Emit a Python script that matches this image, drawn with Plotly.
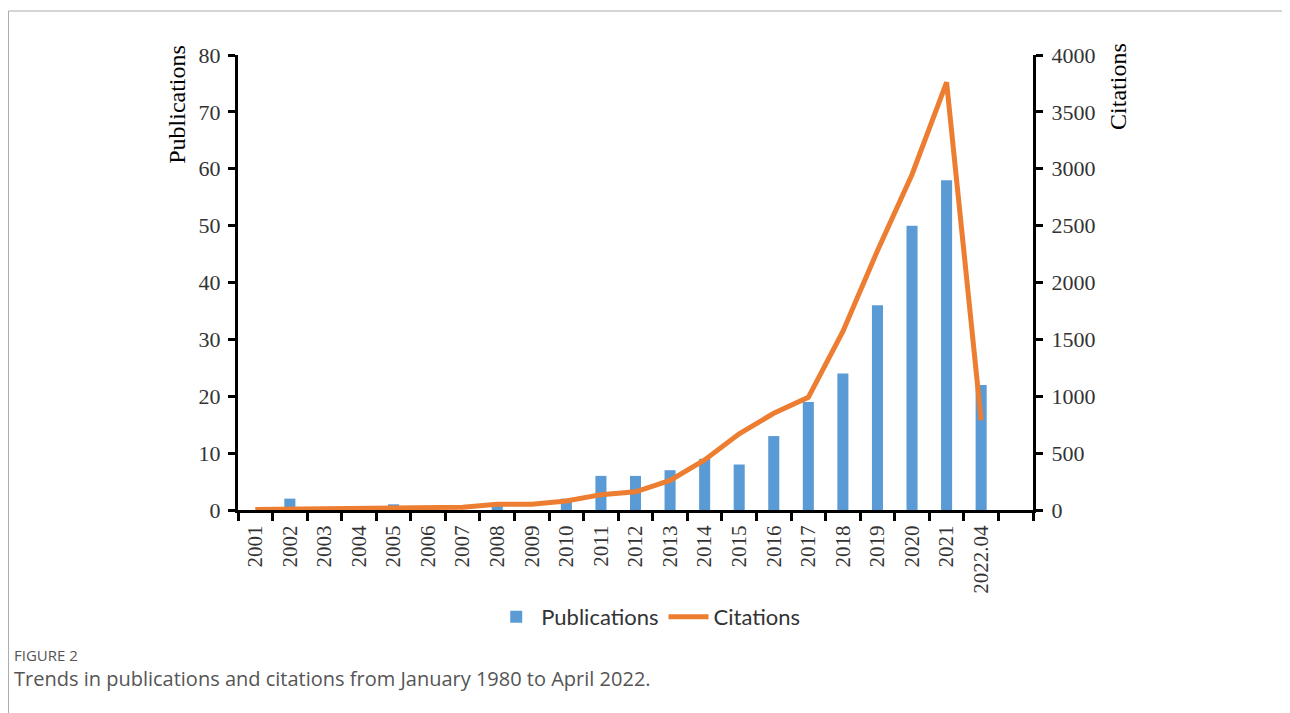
import plotly.graph_objects as go

years = ['2001', '2002', '2003', '2004', '2005', '2006', '2007', '2008', '2009', '2010', '2011',
         '2012', '2013', '2014', '2015', '2016', '2017', '2018', '2019', '2020', '2021', '2022.04']
publications = [0, 2, 0, 0, 1, 0, 0, 1, 0, 2, 6, 6, 7, 9, 8, 13, 19, 24, 36, 50, 58, 22]
citations = [5, 10, 15, 20, 25, 25, 25, 50, 50, 80, 135, 160, 260, 440, 670, 850, 990,
             1570, 2280, 2950, 3760, 790]
# excel leaves one empty slot after the last year
slots = years + [' ']

blue = '#5B9BD5'
orange = '#ED7D31'
serif = 'Liberation Serif'

fig = go.Figure()
fig.add_trace(go.Bar(
    x=years, y=publications, name='Publications',
    marker_color=blue, marker_line_width=0, width=0.32,
))
fig.add_trace(go.Scatter(
    x=years, y=citations, name='Citations', mode='lines',
    line=dict(color=orange, width=5), yaxis='y2',
))

# page body has an 8px margin, so the figure is a bit smaller than the window
fig.update_layout(
    width=1282, height=705,
    margin=dict(l=230, r=257, t=47, b=203),
    paper_bgcolor='white', plot_bgcolor='white',
    font=dict(family=serif, size=21, color='#333'),
    showlegend=True,
    legend=dict(orientation='h', x=0.516, xanchor='center', y=-0.235, yanchor='middle',
                font=dict(family='Lato', size=22, color='#333'), itemwidth=40,
                traceorder='normal'),
    xaxis=dict(
        type='category', categoryorder='array', categoryarray=slots,
        range=[-0.5, len(slots) - 0.5], tickson='boundaries',
        showline=True, linecolor='black', linewidth=3,
        ticks='outside', ticklen=8, tickwidth=3, tickcolor='black',
        tickangle=-90, tickfont=dict(size=21), showgrid=False, zeroline=False,
        ticklabelstandoff=4,
    ),
    yaxis=dict(
        range=[0, 80], dtick=10, showline=True, linecolor='black', linewidth=3,
        ticks='outside', ticklen=7, tickwidth=3, tickcolor='black',
        showgrid=False, zeroline=False, tickfont=dict(size=22), ticklabelstandoff=3,
    ),
    yaxis2=dict(
        range=[0, 4000], dtick=500, overlaying='y', side='right', anchor='x',
        showline=True, linecolor='black', linewidth=3,
        ticks='outside', ticklen=7, tickwidth=3, tickcolor='black',
        showgrid=False, zeroline=False, tickfont=dict(size=22), ticklabelstandoff=4,
    ),
)

# axis titles sit at the top, like the original
fig.add_annotation(text='Publications', xref='paper', yref='paper', x=-0.076, y=1.027,
                   xanchor='center', yanchor='top', textangle=-90, showarrow=False,
                   font=dict(family=serif, size=24, color='black'))
fig.add_annotation(text='Citations', xref='paper', yref='paper', x=1.107, y=1.03,
                   xanchor='center', yanchor='top', textangle=-90, showarrow=False,
                   font=dict(family=serif, size=24, color='black'))

# caption
fig.add_annotation(text='FIGURE 2', xref='paper', yref='paper', x=-0.2843, y=-0.3187,
                   xanchor='left', yanchor='middle', showarrow=False,
                   font=dict(family='Open Sans', size=15, color='#555'))
fig.add_annotation(text='Trends in publications and citations from January 1980 to April 2022.',
                   xref='paper', yref='paper', x=-0.2843, y=-0.371,
                   xanchor='left', yanchor='middle', showarrow=False,
                   font=dict(family='Open Sans', size=20, color='#555'))

# page frame around the figure
fig.add_shape(type='line', xref='paper', yref='paper', x0=-0.2887, x1=1.33, y0=1.0967, y1=1.0967,
              line=dict(color='#aaa', width=1))
fig.add_shape(type='line', xref='paper', yref='paper', x0=-0.2887, x1=-0.2887, y0=1.0967, y1=-0.45,
              line=dict(color='#aaa', width=1))

fig.write_html('out.html')
